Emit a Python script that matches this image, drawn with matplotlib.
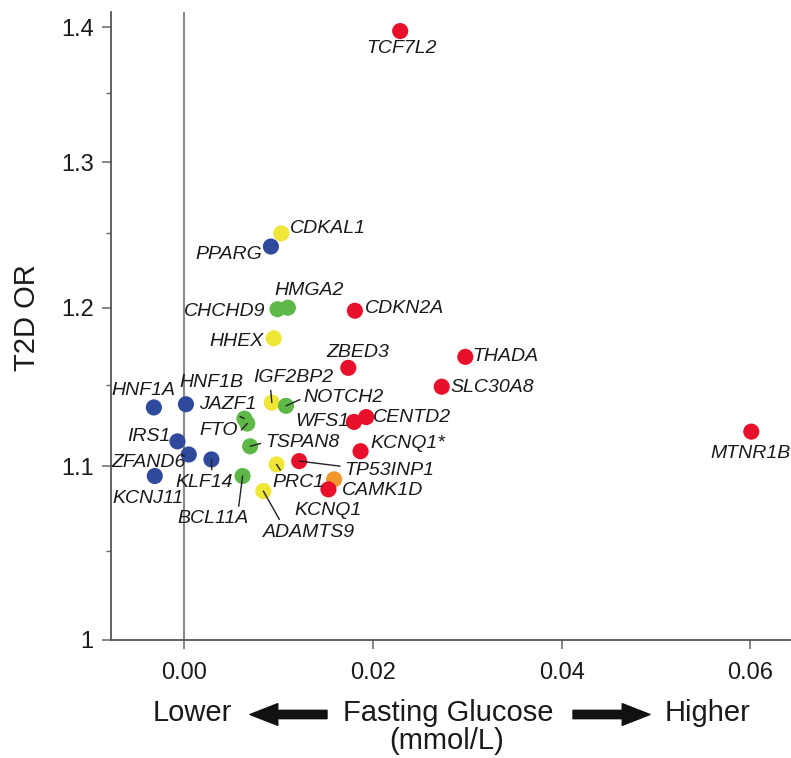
import matplotlib.pyplot as plt
from matplotlib.ticker import FixedLocator, NullFormatter

plt.rcParams['font.family'] = ['Liberation Sans', 'DejaVu Sans']

# Loci, fasting glucose effect (mmol/L) and T2D odds ratio
genes = ['TCF7L2', 'CDKAL1', 'PPARG', 'CHCHD9', 'HMGA2', 'CDKN2A', 'HHEX',
         'ZBED3', 'THADA', 'SLC30A8', 'IGF2BP2', 'NOTCH2', 'HNF1A', 'HNF1B',
         'JAZF1', 'FTO', 'WFS1', 'CENTD2', 'IRS1', 'ZFAND6', 'KLF14', 'KCNJ11',
         'TSPAN8', 'KCNQ1*', 'TP53INP1', 'PRC1', 'CAMK1D', 'KCNQ1', 'ADAMTS9',
         'BCL11A', 'MTNR1B']
fg_effect = [0.0229, 0.0103, 0.0092, 0.0099, 0.0110, 0.0181, 0.0095,
             0.0174, 0.0298, 0.0273, 0.0093, 0.0108, -0.0032, 0.0002,
             0.0064, 0.0067, 0.0180, 0.0193, -0.0007, 0.0005, 0.0029, -0.0031,
             0.0070, 0.0187, 0.0122, 0.0098, 0.0159, 0.0153, 0.0084,
             0.0062, 0.0601]
t2d_or = [1.397, 1.250, 1.241, 1.199, 1.200, 1.198, 1.180,
          1.161, 1.168, 1.149, 1.139, 1.137, 1.136, 1.138,
          1.129, 1.126, 1.127, 1.130, 1.115, 1.107, 1.104, 1.094,
          1.112, 1.109, 1.103, 1.101, 1.092, 1.086, 1.085,
          1.094, 1.121]
group = ['red', 'yellow', 'blue', 'green', 'green', 'red', 'yellow',
         'red', 'red', 'red', 'yellow', 'green', 'blue', 'blue',
         'green', 'green', 'red', 'red', 'blue', 'blue', 'blue', 'blue',
         'green', 'red', 'red', 'yellow', 'orange', 'red', 'yellow',
         'green', 'red']

y_ticks = [1.0, 1.1, 1.2, 1.3, 1.4]
y_tick_labels = ['1', '1.1', '1.2', '1.3', '1.4']
y_minor = [1.05, 1.15, 1.25, 1.35]
x_ticks = [0.0, 0.02, 0.04, 0.06]
x_tick_labels = ['0.00', '0.02', '0.04', '0.06']

palette = {'red': '#E8102B', 'blue': '#2F4A9C', 'green': '#5DB848',
           'yellow': '#F0E637', 'orange': '#F2972B'}

# label placement: offset of label centre from the dot (pixels), optional leader line anchor
label_pos = {
    'TCF7L2': (1, -17, None), 'CDKAL1': (47, 5, None), 'PPARG': (-42, -8, None),
    'CHCHD9': (-53, -2, None), 'HMGA2': (21, 17, None), 'CDKN2A': (50, 2, None),
    'HHEX': (-37, -3, None), 'ZBED3': (10, 15, None), 'THADA': (40, 0, None),
    'SLC30A8': (51, -1, None), 'IGF2BP2': (21, 25, (0.22, 0)),
    'NOTCH2': (58, 8, (0, 0.5)), 'HNF1A': (-10, 17, None), 'HNF1B': (25, 22, None),
    'JAZF1': (-17, 14, (0.6, 0)), 'FTO': (-29, -7, (1, 0.3)), 'WFS1': (-32, 0, None),
    'CENTD2': (46, 0, None), 'IRS1': (-29, 5, None), 'ZFAND6': (-40, -8, None),
    'KLF14': (-7, -23, (0.63, 1)), 'KCNJ11': (-7, -23, None),
    'TSPAN8': (52, 4, (0, 0.5)), 'KCNQ1*': (47, 8, None),
    'TP53INP1': (90, -9, (0, 0.7)), 'PRC1': (22, -18, (0.2, 1)),
    'CAMK1D': (48, -11, None), 'KCNQ1': (0, -21, None),
    'ADAMTS9': (46, -41, (0.2, 1)), 'BCL11A': (-30, -43, (0.86, 1)),
    'MTNR1B': (-1, -22, None),
}

W, H = 791, 758
fig = plt.figure(figsize=(W / 100, H / 100), dpi=100)
ax = fig.add_axes([111 / W, (H - 639.5) / H, 679 / W, (639.5 - 12) / H])

ax.axvline(0, color='#8a8a8a', lw=1.5, zorder=1)
ax.scatter(fg_effect, t2d_or, s=135, c=[palette[g] for g in group],
           edgecolors='none', zorder=3, clip_on=False)

for g, x, y in zip(genes, fg_effect, t2d_or):
    dx, dy, rel = label_pos[g]
    props = None
    if rel is not None:
        props = dict(arrowstyle='-', color='#222222', lw=1.0, relpos=rel,
                     shrinkA=1, shrinkB=0)
    ax.annotate(g, xy=(x, y), xytext=(dx, dy), textcoords='offset pixels',
                ha='center', va='center', fontsize=14, style='italic',
                color='#1a1a1a', arrowprops=props, zorder=4)

ax.set_yscale('log')
ax.set_ylim(1.0, 1.4117)
ax.set_xlim(-0.00774, 0.0642)
ax.yaxis.set_major_locator(FixedLocator(y_ticks))
ax.yaxis.set_minor_locator(FixedLocator(y_minor))
ax.set_yticklabels(y_tick_labels)
ax.yaxis.set_minor_formatter(NullFormatter())
ax.xaxis.set_major_locator(FixedLocator(x_ticks))
ax.set_xticklabels(x_tick_labels)

for side in ['top', 'right']:
    ax.spines[side].set_visible(False)
for side in ['left', 'bottom']:
    ax.spines[side].set_color('#555555')
    ax.spines[side].set_linewidth(1.3)

ax.tick_params(axis='both', which='major', direction='out', length=6.5,
               width=1.1, color='#666666', labelsize=17, labelcolor='#1a1a1a')
ax.tick_params(axis='y', which='minor', direction='out', length=3.5,
               width=1.0, color='#666666')
ax.tick_params(axis='x', pad=10)
ax.tick_params(axis='y', pad=6)

# axis titles
fig.text(27 / W, 1 - 317.5 / H, 'T2D OR', rotation=90, ha='center', va='center',
         fontsize=21, color='#1a1a1a')
fig.text(192 / W, 1 - 713 / H, 'Lower', ha='center', va='center', fontsize=21, color='#1a1a1a')
fig.text(448 / W, 1 - 713 / H, 'Fasting Glucose', ha='center', va='center', fontsize=21, color='#1a1a1a')
fig.text(708 / W, 1 - 713 / H, 'Higher', ha='center', va='center', fontsize=21, color='#1a1a1a')
fig.text(447 / W, 1 - 741 / H, '(mmol/L)', ha='center', va='center', fontsize=21, color='#1a1a1a')

arrow_style = 'simple,head_length=1.0,head_width=0.78,tail_width=0.3'
for tail, head in [(327, 250), (573, 650)]:
    ax.annotate('', xy=(head, H - 714.5), xytext=(tail, H - 714.5),
                xycoords='figure pixels', textcoords='figure pixels',
                arrowprops=dict(arrowstyle=arrow_style, mutation_scale=20,
                                color='#111111', shrinkA=0, shrinkB=0),
                annotation_clip=False)

fig.savefig('out.png', dpi=100)
